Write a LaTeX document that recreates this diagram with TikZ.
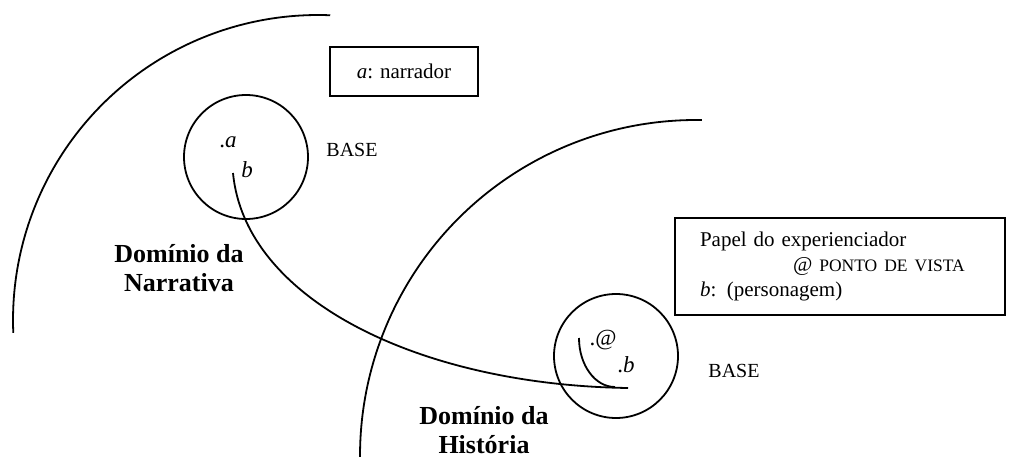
\documentclass[tikz,border=0pt]{standalone}
\usepackage{fontspec}
\setmainfont{Liberation Serif}
\begin{document}
\begin{tikzpicture}[x=1pt,y=-1pt,line width=1.8pt,
  basecircle/.style={circle,draw,minimum size=124pt,inner sep=0pt},
  infobox/.style={draw,rectangle,line width=1.8pt},
  domlabel/.style={font=\fontsize{26}{29}\selectfont\bfseries,align=center,inner sep=0pt},
  baselabel/.style={font=\fontsize{20}{22}\selectfont,inner sep=0pt},
  ptlabel/.style={font=\fontsize{23}{24}\selectfont,inner sep=0pt}]
\useasboundingbox (0,0) rectangle (1011,457);
\fill[white] (0,0) rectangle (1011,457);
% large domain arcs
\draw (318,320) ++(-87.7:305) arc[start angle=-87.7,end angle=-182.4,radius=305];
\draw (696,456) ++(-89:336) arc[start angle=-89,end angle=-181,radius=336];
% base circles
\node[basecircle] (nbase) at (246,157) {};
\node[basecircle] (hbase) at (616,356) {};
% labels
\node[baselabel] (nbaselbl) at (352,150) {BASE};
\node[baselabel] (hbaselbl) at (734,371) {BASE};
\node[domlabel] (ndom) at (179,268) {Domínio da\\Narrativa};
\node[domlabel] (hdom) at (484,430) {Domínio da\\História};
% boxes
\node[infobox,minimum width=148pt,minimum height=49pt,font=\fontsize{21}{24}\selectfont] (boxa) at (404,71.5) {\textit{a}: narrador};
\node[infobox,minimum width=330pt,minimum height=97pt,text width=280pt,inner xsep=25pt,align=left,font=\fontsize{21}{25}\selectfont] (boxb) at (840,266.5)
  {Papel do experienciador\\\hspace*{93pt}@ {\fontsize{17.5}{25}\selectfont PONTO DE VISTA}\\\textit{b}: (personagem)};
% points in circles
\node[ptlabel] (pa) at (228,142) {.\textit{a}};
\node[ptlabel] (pb) at (247,170) {\textit{b}};
\node[ptlabel] (pat) at (603,340) {.@};
\node[ptlabel] (pb2) at (626,365) {.\textit{b}};
% connectors
\coordinate (bstart) at (233,173);
\coordinate (bend) at (628,388);
\coordinate (atstart) at (579,338);
\coordinate (atend) at (615,387);
\draw (bstart) .. controls (245,300) and (420,385) .. (bend);
\draw (atstart) .. controls (579,365) and (595,387) .. (atend);
\end{tikzpicture}
\end{document}
